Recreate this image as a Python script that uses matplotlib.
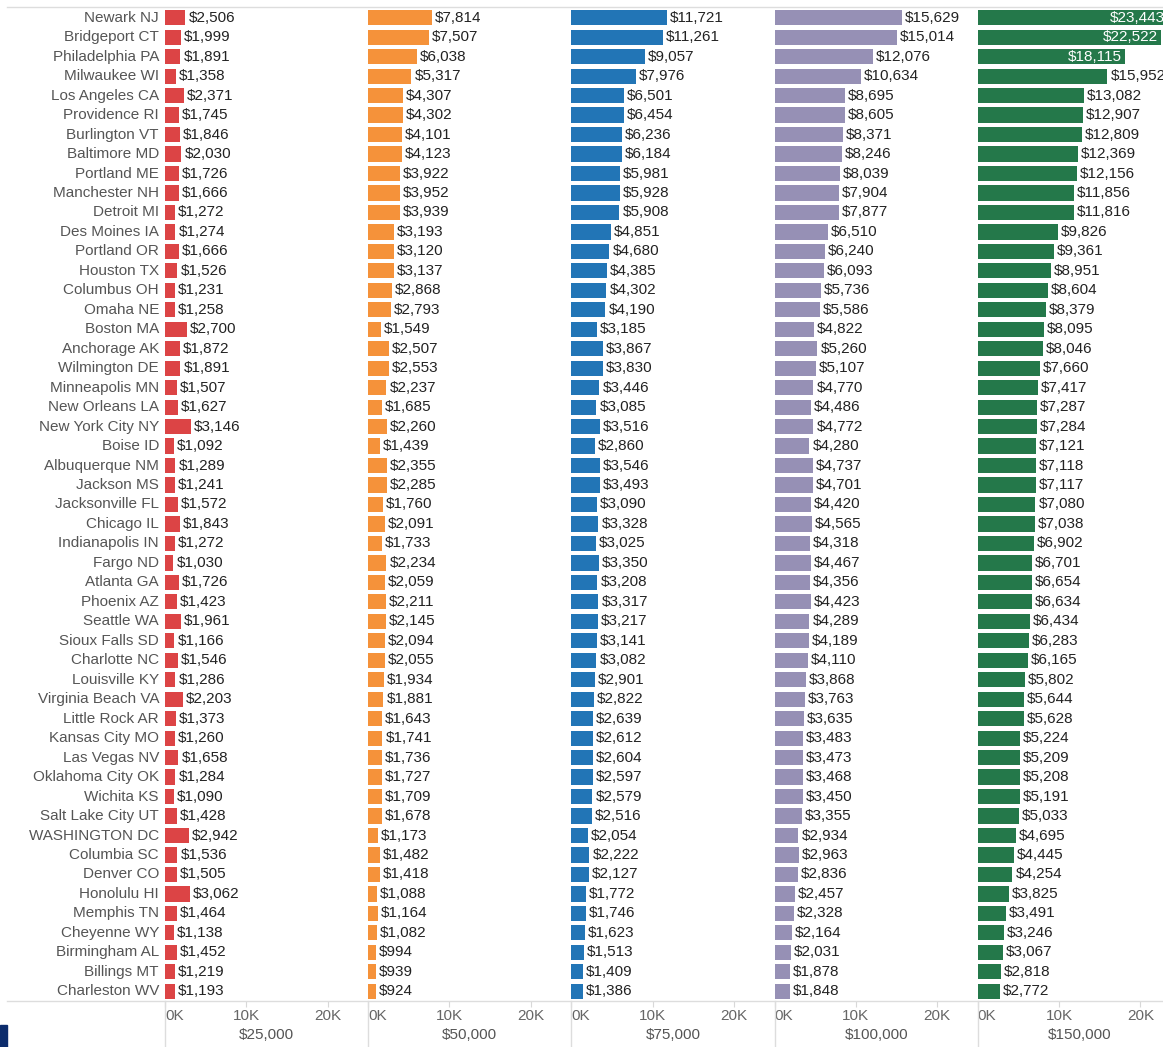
import matplotlib
matplotlib.use("Agg")
import matplotlib.pyplot as plt
from matplotlib.lines import Line2D
from matplotlib.patches import Rectangle

plt.rcParams['font.family'] = ['Liberation Sans', 'DejaVu Sans']

cities = [
    "Newark NJ", "Bridgeport CT", "Philadelphia PA", "Milwaukee WI", "Los Angeles CA",
    "Providence RI", "Burlington VT", "Baltimore MD", "Portland ME", "Manchester NH",
    "Detroit MI", "Des Moines IA", "Portland OR", "Houston TX", "Columbus OH",
    "Omaha NE", "Boston MA", "Anchorage AK", "Wilmington DE", "Minneapolis MN",
    "New Orleans LA", "New York City NY", "Boise ID", "Albuquerque NM", "Jackson MS",
    "Jacksonville FL", "Chicago IL", "Indianapolis IN", "Fargo ND", "Atlanta GA",
    "Phoenix AZ", "Seattle WA", "Sioux Falls SD", "Charlotte NC", "Louisville KY",
    "Virginia Beach VA", "Little Rock AR", "Kansas City MO", "Las Vegas NV", "Oklahoma City OK",
    "Wichita KS", "Salt Lake City UT", "WASHINGTON DC", "Columbia SC", "Denver CO",
    "Honolulu HI", "Memphis TN", "Cheyenne WY", "Birmingham AL", "Billings MT",
    "Charleston WV",
]

income_25k = [
    2506, 1999, 1891, 1358, 2371, 1745, 1846, 2030, 1726, 1666,
    1272, 1274, 1666, 1526, 1231, 1258, 2700, 1872, 1891, 1507,
    1627, 3146, 1092, 1289, 1241, 1572, 1843, 1272, 1030, 1726,
    1423, 1961, 1166, 1546, 1286, 2203, 1373, 1260, 1658, 1284,
    1090, 1428, 2942, 1536, 1505, 3062, 1464, 1138, 1452, 1219,
    1193,
]
income_50k = [
    7814, 7507, 6038, 5317, 4307, 4302, 4101, 4123, 3922, 3952,
    3939, 3193, 3120, 3137, 2868, 2793, 1549, 2507, 2553, 2237,
    1685, 2260, 1439, 2355, 2285, 1760, 2091, 1733, 2234, 2059,
    2211, 2145, 2094, 2055, 1934, 1881, 1643, 1741, 1736, 1727,
    1709, 1678, 1173, 1482, 1418, 1088, 1164, 1082, 994, 939,
    924,
]
income_75k = [
    11721, 11261, 9057, 7976, 6501, 6454, 6236, 6184, 5981, 5928,
    5908, 4851, 4680, 4385, 4302, 4190, 3185, 3867, 3830, 3446,
    3085, 3516, 2860, 3546, 3493, 3090, 3328, 3025, 3350, 3208,
    3317, 3217, 3141, 3082, 2901, 2822, 2639, 2612, 2604, 2597,
    2579, 2516, 2054, 2222, 2127, 1772, 1746, 1623, 1513, 1409,
    1386,
]
income_100k = [
    15629, 15014, 12076, 10634, 8695, 8605, 8371, 8246, 8039, 7904,
    7877, 6510, 6240, 6093, 5736, 5586, 4822, 5260, 5107, 4770,
    4486, 4772, 4280, 4737, 4701, 4420, 4565, 4318, 4467, 4356,
    4423, 4289, 4189, 4110, 3868, 3763, 3635, 3483, 3473, 3468,
    3450, 3355, 2934, 2963, 2836, 2457, 2328, 2164, 2031, 1878,
    1848,
]
income_150k = [
    23443, 22522, 18115, 15952, 13082, 12907, 12809, 12369, 12156, 11856,
    11816, 9826, 9361, 8951, 8604, 8379, 8095, 8046, 7660, 7417,
    7287, 7284, 7121, 7118, 7117, 7080, 7038, 6902, 6701, 6654,
    6634, 6434, 6283, 6165, 5802, 5644, 5628, 5224, 5209, 5208,
    5191, 5033, 4695, 4445, 4254, 3825, 3491, 3246, 3067, 2818,
    2772,
]

panel_titles = ["$25,000", "$50,000", "$75,000", "$100,000", "$150,000"]
series = [income_25k, income_50k, income_75k, income_100k, income_150k]
colors = ["#dc4445", "#f5923a", "#2275b6", "#9690b5", "#24784a"]
tick_vals = [0, 10000, 20000]
tick_text = ["0K", "10K", "20K"]

W, H = 1163, 1047
fig = plt.figure(figsize=(W / 100, H / 100), dpi=100)

top_px, bot_px = 8, 1001
first_left, panel_w = 165, 203.2
xmax = 25000
n = len(cities)
rows = list(range(n))

def fx(px):
    return px / W

def fy(px):
    return 1 - px / H

for i, (vals, col, title) in enumerate(zip(series, colors, panel_titles)):
    left = first_left + panel_w * i
    ax = fig.add_axes([fx(left), fy(bot_px), panel_w / W, (bot_px - top_px) / H])
    ax.barh(rows, vals, height=0.78, color=col)
    ax.set_xlim(0, xmax)
    ax.set_ylim(n - 0.5, -0.5)
    for s in ax.spines.values():
        s.set_visible(False)
    ax.set_yticks([])
    ax.set_xticks(tick_vals)
    ax.set_xticklabels(tick_text, fontsize=11, color="#666666")
    ax.get_xticklabels()[0].set_horizontalalignment("left")
    ax.tick_params(axis="x", length=4, color="#d8d8d8", pad=1.5)
    ax.set_xlabel(title, fontsize=11, color="#555555", labelpad=4)

    for r, v in zip(rows, vals):
        txt = f"${v:,}"
        if v > 0.68 * xmax:
            # long bars carry their label inside, in white
            ax.annotate(txt, (v, r), xytext=(-3, 0), textcoords="offset pixels",
                        ha="right", va="center", fontsize=11, color="white")
        else:
            ax.annotate(txt, (v, r), xytext=(3, 0), textcoords="offset pixels",
                        ha="left", va="center", fontsize=11, color="#222222")

    if i == 0:
        for r, c in zip(rows, cities):
            ax.annotate(c, (0, r), xytext=(-6, 0), textcoords="offset pixels",
                        ha="right", va="center", fontsize=11, color="#555555",
                        annotation_clip=False)

    # divider below the axis
    fig.add_artist(Line2D([fx(left), fx(left)], [fy(bot_px), 0],
                          color="#dddddd", lw=1))

# top and bottom rules
fig.add_artist(Line2D([fx(7), 1], [fy(top_px - 1), fy(top_px - 1)], color="#dddddd", lw=1))
fig.add_artist(Line2D([fx(7), 1], [fy(bot_px), fy(bot_px)], color="#dddddd", lw=1))

fig.add_artist(Rectangle((0, 0), fx(7), 22 / H,
                         transform=fig.transFigure, color="#0c2c6c"))

fig.savefig("out.png", dpi=100)
